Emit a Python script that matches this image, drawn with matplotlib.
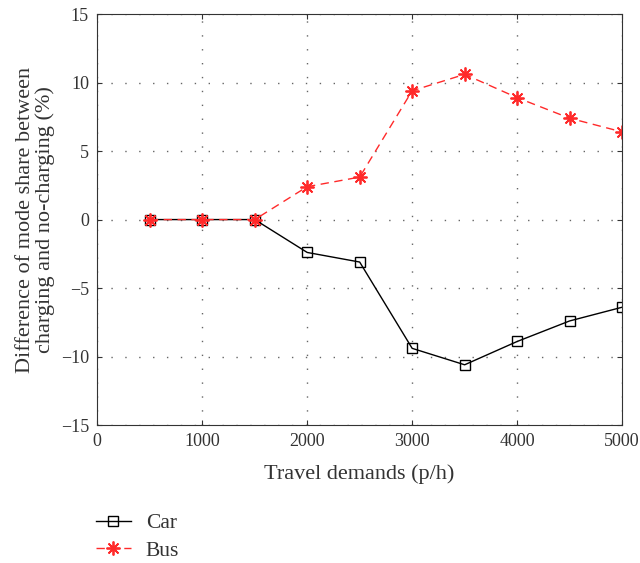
import matplotlib.pyplot as plt
import numpy as np

plt.rcParams['font.family'] = ['Liberation Serif', 'DejaVu Serif']

# Travel demands and differences in mode share
demands = [500, 1000, 1500, 2000, 2500, 3000, 3500, 4000, 4500, 5000]
car = [0, 0, 0, -2.4, -3.1, -9.4, -10.6, -8.9, -7.4, -6.4]
bus = [0, 0, 0, 2.4, 3.1, 9.4, 10.6, 8.9, 7.4, 6.4]

fig = plt.figure(figsize=(6.4, 5.63), dpi=100)
ax = fig.add_axes([0.152, 0.245, 0.82, 0.73])

ax.plot(demands, car, color='black', lw=1, marker='s', ms=7,
        mfc='none', mec='black', mew=1, label='Car')
ax.plot(demands, bus, color='#ff2a2a', lw=1, ls=(0, (6, 4)), marker=(8, 2, 0),
        ms=10, mfc='#ff2a2a', mec='#ff2a2a', mew=1.3, label='Bus')

ax.set_xlim(0, 5000)
ax.set_ylim(-15, 15)
ax.set_xticks(np.arange(0, 5001, 1000))
ax.set_yticks(np.arange(-15, 16, 5))
ax.tick_params(direction='in', top=True, right=True, labelsize=13,
               colors='#333333', pad=6)
for s in ax.spines.values():
    s.set_color('#333333')
ax.grid(True, color='#666666', ls=(0, (1, 9)), lw=1)

ax.set_xlabel('Travel demands (p/h)', fontsize=16, color='#333333', labelpad=10)
ax.set_ylabel('Difference of mode share between\ncharging and no-charging (%)',
              fontsize=16, color='#333333', linespacing=1.0)

fig.legend(loc='upper left', bbox_to_anchor=(0.12, 0.123), frameon=False,
           fontsize=15.5, handlelength=1.6, handletextpad=0.7, labelspacing=0.35,
           labelcolor='#333333')

fig.savefig('out.png', dpi=100)
